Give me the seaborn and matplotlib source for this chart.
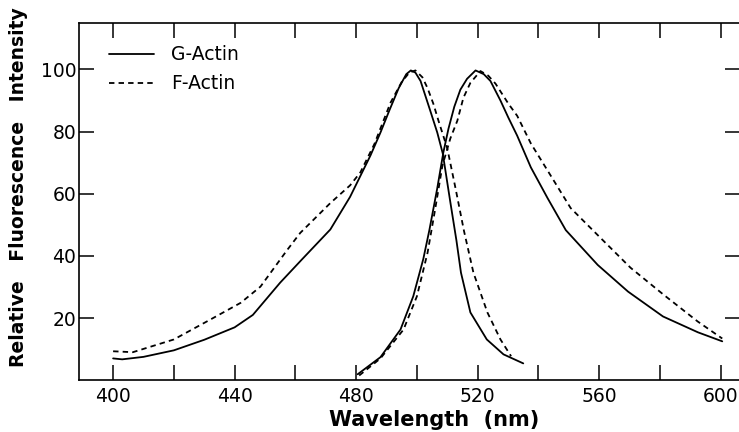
import pandas as pd
import seaborn as sns
import matplotlib.pyplot as plt
from matplotlib.ticker import MultipleLocator

# G-Actin excitation (solid, left peak)
g_ex_wl = [400, 403, 410, 420, 430, 440, 446, 455, 462, 471.5, 478, 484.7, 488, 491,
           494, 496.5, 498, 499.5, 501.2, 504.4, 506.7, 508.5, 511, 513, 514.5, 517.6,
           523, 528.5, 535]
g_ex = [7.0, 6.7, 7.5, 9.6, 13.0, 17.0, 21.0, 31.4, 38.7, 48.5, 59.0, 72.3, 79.7, 87.0,
        94.0, 98.5, 99.7, 99.0, 96.3, 86.7, 79.7, 73.0, 57.3, 45.0, 34.6, 21.8,
        13.1, 8.3, 5.4]

# F-Actin excitation (dashed, left peak)
f_ex_wl = [400, 406.5, 420, 432, 442, 448.5, 457.3, 461.6, 471.5, 478, 481.4, 486, 491.3,
           495, 497.5, 499.5, 501.8, 503.5, 505.4, 507.1, 510, 512.7, 515.5, 518.6, 523.2,
           527.5, 531]
f_ex = [9.3, 9.0, 13.1, 19.5, 24.9, 30.1, 41.9, 47.4, 57.0, 62.7, 66.9, 76.0, 89.3,
        96.0, 99.0, 99.7, 97.5, 94.0, 89.0, 83.5, 74.6, 61.8, 48.0, 34.6, 21.8, 13.1, 7.7]

# G-Actin emission (solid, right peak)
g_em_wl = [480.5, 488, 494.6, 498.8, 502.1, 504.1, 506.7, 508.7, 510.4, 512.3, 514.3,
           516.5, 519.3, 522, 524.2, 527.5, 530.1, 533, 537.5, 543, 549, 559.5, 569.5,
           581, 592.5, 600.5]
g_em = [1.9, 7.4, 16.3, 27.0, 39.0, 48.3, 61.8, 73.3, 81.0, 88.0, 93.5, 97.0,
        99.7, 98.5, 96.3, 90.0, 84.5, 78.7, 68.5, 58.6, 48.3, 37.1, 28.5, 20.5,
        15.4, 12.5]

# F-Actin emission (dashed, right peak)
f_em_wl = [481, 488, 495.6, 500, 503.5, 506, 508.4, 511, 513.3, 515.3, 517.6, 520.9,
           523.5, 525.9, 530.1, 533, 537.5, 544, 550.6, 559.5, 570.3, 581.2, 592.4, 600.5]
f_em = [1.5, 7.0, 16.3, 27.0, 41.0, 55.0, 69.1, 77.8, 83.5, 90.9, 95.7, 99.5,
        98.0, 95.4, 89.0, 85.1, 76.2, 65.9, 55.4, 46.7, 36.2, 27.5, 18.9, 13.4]

curves = [
    ("G-Actin", "excitation", g_ex_wl, g_ex),
    ("F-Actin", "excitation", f_ex_wl, f_ex),
    ("G-Actin", "emission", g_em_wl, g_em),
    ("F-Actin", "emission", f_em_wl, f_em),
]
rows = []
for actin, spec, wl, vals in curves:
    for w, v in zip(wl, vals):
        rows.append({"wl": w, "intensity": v, "actin": actin, "spectrum": spec})
df = pd.DataFrame(rows)

sns.set_style("ticks")
plt.rcParams["font.family"] = ["DejaVu Sans"]
plt.rcParams["text.color"] = "black"
plt.rcParams["axes.labelcolor"] = "black"
plt.rcParams["xtick.color"] = "black"
plt.rcParams["ytick.color"] = "black"

fig = plt.figure(figsize=(7.39, 4.32), dpi=100)
ax = fig.add_axes([0.107, 0.12, 0.895, 0.827])

sns.lineplot(data=df, x="wl", y="intensity", style="actin", units="spectrum",
             estimator=None, sort=False, color="black", lw=1.3,
             style_order=["G-Actin", "F-Actin"],
             dashes={"G-Actin": "", "F-Actin": (3.0, 2.3)}, ax=ax)

ax.set_xlim(388.8, 606.5)
ax.set_ylim(0, 115)
ax.xaxis.set_major_locator(MultipleLocator(40))
ax.xaxis.set_minor_locator(MultipleLocator(20))
ax.set_yticks([20, 40, 60, 80, 100])
ax.tick_params(which="both", direction="in", length=11, width=1.1,
               top=True, right=True, labelsize=13.5, color="black")
ax.tick_params(axis="x", pad=5)
ax.tick_params(axis="y", pad=2)
for s in ax.spines.values():
    s.set_linewidth(1.2)
    s.set_color("black")

ax.set_xlabel("Wavelength  (nm)", fontsize=15, fontweight="bold")
ax.set_ylabel("Relative   Fluorescence   Intensity", fontsize=13.5, fontweight="bold")
ax.xaxis.set_label_coords(0.537, -0.084)
ax.yaxis.set_label_coords(-0.077, 0.54)

handles, labels = ax.get_legend_handles_labels()
ax.legend(handles, labels, loc="upper left", bbox_to_anchor=(0.02, 0.985),
          frameon=False, fontsize=13.5, handlelength=2.4, handletextpad=0.9,
          labelspacing=0.55, labelcolor="black")

fig.savefig("out.png", dpi=100)
